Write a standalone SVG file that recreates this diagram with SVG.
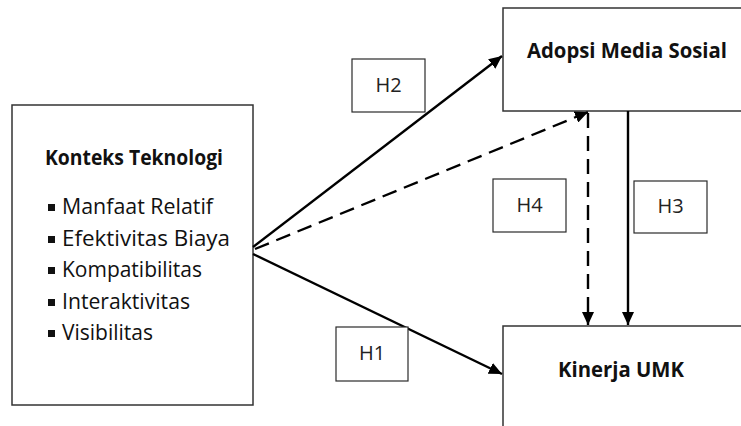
<svg xmlns="http://www.w3.org/2000/svg" width="741" height="426" viewBox="0 0 741 426">
<style>
.box{fill:#fff;stroke:#333;stroke-width:1.5}
.lbl{fill:#fff;stroke:#2a2a2a;stroke-width:1.2}
.title{font-family:"Open Sans","Liberation Sans",sans-serif;font-weight:bold;font-size:21px;fill:#111}
.item{font-family:"Open Sans","Liberation Sans",sans-serif;font-size:21.5px;fill:#111}
.h{font-family:"Open Sans","Liberation Sans",sans-serif;font-size:20px;fill:#222;text-anchor:middle}
.ln{stroke:#000;stroke-width:2.4;fill:none}
.dash{stroke-dasharray:15 8}
</style>
<defs>
<marker id="ah" markerUnits="userSpaceOnUse" markerWidth="14" markerHeight="12" refX="13" refY="6" orient="auto">
<path d="M0,0 L13,6 L0,12 Z" fill="#000"/>
</marker>
</defs>
<rect width="741" height="426" fill="#fff"/>
<g id="konteks">
<rect class="box" x="12" y="105" width="241" height="300"/>
<text class="title" x="45" y="165" textLength="178" lengthAdjust="spacingAndGlyphs">Konteks Teknologi</text>
<rect x="48" y="204" width="7" height="7" fill="#111"/>
<text class="item" x="62" y="214" textLength="151" lengthAdjust="spacingAndGlyphs">Manfaat Relatif</text>
<rect x="48" y="236" width="7" height="7" fill="#111"/>
<text class="item" x="62" y="246" textLength="168" lengthAdjust="spacingAndGlyphs">Efektivitas Biaya</text>
<rect x="48" y="267" width="7" height="7" fill="#111"/>
<text class="item" x="62" y="277" textLength="140" lengthAdjust="spacingAndGlyphs">Kompatibilitas</text>
<rect x="48" y="299" width="7" height="7" fill="#111"/>
<text class="item" x="62" y="309" textLength="128" lengthAdjust="spacingAndGlyphs">Interaktivitas</text>
<rect x="48" y="330" width="7" height="7" fill="#111"/>
<text class="item" x="62" y="340" textLength="91" lengthAdjust="spacingAndGlyphs">Visibilitas</text>
</g>
<g id="adopsi">
<rect class="box" x="503" y="8" width="260" height="103"/>
<text class="title" x="527" y="58" textLength="200" lengthAdjust="spacingAndGlyphs">Adopsi Media Sosial</text>
</g>
<g id="kinerja">
<rect class="box" x="503" y="326" width="260" height="130"/>
<text class="title" x="558" y="377" textLength="126" lengthAdjust="spacingAndGlyphs">Kinerja UMK</text>
</g>
<g id="connectors">
<line class="ln" x1="253" y1="247" x2="502" y2="56" marker-end="url(#ah)"/>
<line class="ln dash" x1="255" y1="249" x2="588" y2="112" marker-end="url(#ah)"/>
<line class="ln dash" x1="588" y1="113" x2="588" y2="325" marker-end="url(#ah)"/>
<line class="ln" x1="628" y1="111" x2="628" y2="325" marker-end="url(#ah)"/>
<line class="ln" x1="253" y1="254" x2="502" y2="374" marker-end="url(#ah)"/>
</g>
<g id="h2"><rect class="lbl" x="352" y="59" width="73" height="53"/><text class="h" x="388.5" y="92">H2</text></g>
<g id="h4"><rect class="lbl" x="493" y="179" width="73" height="53"/><text class="h" x="529.5" y="212">H4</text></g>
<g id="h3"><rect class="lbl" x="634" y="181" width="73" height="52"/><text class="h" x="670.5" y="213">H3</text></g>
<g id="h1"><rect class="lbl" x="336" y="327" width="72" height="54"/><text class="h" x="372" y="360">H1</text></g>
</svg>
